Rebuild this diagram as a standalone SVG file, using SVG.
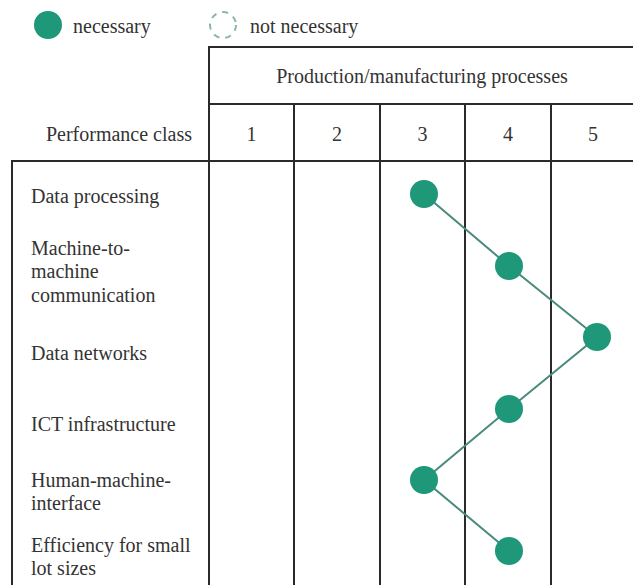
<svg xmlns="http://www.w3.org/2000/svg" width="633" height="585" viewBox="0 0 633 585">
  <defs>
    <style>
      text { font-family: 'Liberation Serif', 'DejaVu Serif', serif; font-size: 20px; fill: #333333; }
      .mid { text-anchor: middle; }
      .grid { stroke: #2a2a2a; stroke-width: 2; fill: none; }
      .dot { fill: #1e9878; }
      .link { stroke: #4a8a7c; stroke-width: 2; fill: none; }
    </style>
  </defs>
  <rect width="633" height="585" fill="#ffffff"/>

  <!-- legend -->
  <g id="legend">
    <circle class="dot" cx="48" cy="25" r="14"/>
    <text x="73" y="33">necessary</text>
    <circle cx="223" cy="25" r="13" fill="none" stroke="#8ab5aa" stroke-width="2" stroke-dasharray="6 6"/>
    <text x="250" y="33">not necessary</text>
  </g>

  <!-- table grid -->
  <g id="table">
    <polyline class="grid" points="633,47 209,47 209,585"/>
    <line class="grid" x1="209" y1="104" x2="633" y2="104"/>
    <polyline class="grid" points="12,585 12,161 633,161"/>
    <line class="grid" x1="294" y1="104" x2="294" y2="585"/>
    <line class="grid" x1="380" y1="104" x2="380" y2="585"/>
    <line class="grid" x1="465" y1="104" x2="465" y2="585"/>
    <line class="grid" x1="551" y1="104" x2="551" y2="585" stroke="#555"/>
  </g>

  <!-- headers -->
  <g id="headers">
    <text class="mid" x="422" y="83">Production/manufacturing processes</text>
    <text x="192" y="141" text-anchor="end">Performance class</text>
    <text class="mid" x="251.5" y="141">1</text>
    <text class="mid" x="337" y="141">2</text>
    <text class="mid" x="422.5" y="141">3</text>
    <text class="mid" x="508" y="141">4</text>
    <text class="mid" x="593" y="141">5</text>
  </g>

  <!-- row labels -->
  <g id="labels">
    <text x="31" y="203">Data processing</text>
    <text x="31" y="255">Machine-to-</text>
    <text x="31" y="278">machine</text>
    <text x="31" y="302">communication</text>
    <text x="31" y="360">Data networks</text>
    <text x="31" y="431">ICT infrastructure</text>
    <text x="31" y="487">Human-machine-</text>
    <text x="31" y="510">interface</text>
    <text x="31" y="552">Efficiency for small</text>
    <text x="31" y="575">lot sizes</text>
  </g>

  <!-- connectors -->
  <g id="connectors">
    <polyline class="link" points="424,194 509,266 597,337 509,409 424,480 509,551"/>
  </g>

  <!-- nodes -->
  <g id="node-data-processing"><circle class="dot" cx="424" cy="194" r="14"/></g>
  <g id="node-m2m"><circle class="dot" cx="509" cy="266" r="14"/></g>
  <g id="node-data-networks"><circle class="dot" cx="597" cy="337" r="14"/></g>
  <g id="node-ict"><circle class="dot" cx="509" cy="409" r="14"/></g>
  <g id="node-hmi"><circle class="dot" cx="424" cy="480" r="14"/></g>
  <g id="node-efficiency"><circle class="dot" cx="509" cy="551" r="14"/></g>
</svg>
